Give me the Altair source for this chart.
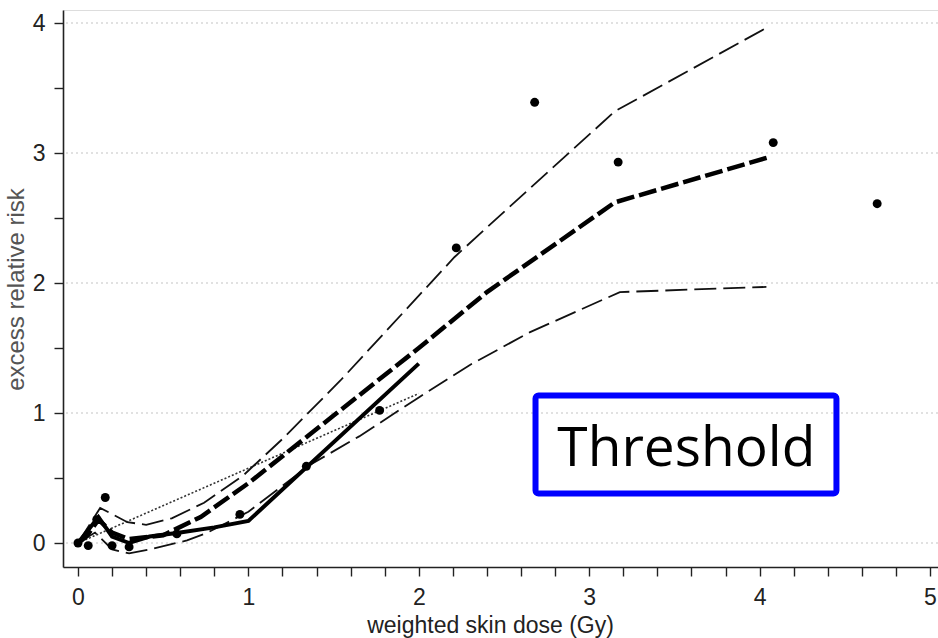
import altair as alt
import pandas as pd

# ---- data ----
pts_x = [0.0, 0.06, 0.11, 0.16, 0.2, 0.3, 0.58, 0.95, 1.34, 1.77, 2.22, 2.68, 3.17, 4.08, 4.69]
pts_y = [0.0, -0.02, 0.18, 0.35, -0.02, -0.03, 0.07, 0.22, 0.59, 1.02, 2.27, 3.39, 2.93, 3.08, 2.61]

# thick dashed fitted curve
fit_x = [0.0, 0.05, 0.12, 0.2, 0.3, 0.5, 0.72, 1.0, 1.5, 2.0, 2.4, 3.15, 4.06]
fit_y = [0.0, 0.05, 0.18, 0.08, 0.03, 0.06, 0.2, 0.46, 0.98, 1.5, 1.93, 2.62, 2.97]

# upper thin dashed band
upper_x = [0.0, 0.13, 0.29, 0.4, 0.55, 0.74, 0.97, 1.2, 1.54, 2.21, 2.36, 3.15, 4.05]
upper_y = [0.0, 0.27, 0.16, 0.14, 0.19, 0.31, 0.52, 0.8, 1.25, 2.2, 2.38, 3.32, 3.97]

# lower thin dashed band
lower_x = [0.0, 0.1, 0.2, 0.3, 0.42, 0.64, 0.76, 1.0, 1.36, 1.65, 2.0, 2.3, 2.65, 3.18, 4.04]
lower_y = [0.0, 0.08, -0.05, -0.08, -0.05, 0.02, 0.08, 0.24, 0.6, 0.82, 1.12, 1.37, 1.62, 1.93, 1.97]

# thick solid threshold model
thr_x = [0.0, 0.12, 0.2, 0.3, 0.42, 0.6, 0.8, 1.0, 2.0]
thr_y = [0.0, 0.2, 0.05, 0.0, 0.05, 0.08, 0.12, 0.17, 1.38]

# dotted linear model
lin_x = [0.0, 2.0]
lin_y = [0.0, 1.15]

grid_y = [0, 1, 2, 3, 4]
x_ticks = [0, 0.2, 0.4, 0.6, 0.8, 1, 1.2, 1.4, 1.6, 1.8, 2, 2.2, 2.4, 2.6, 2.8, 3,
           3.2, 3.4, 3.6, 3.8, 4, 4.2, 4.4, 4.6, 4.8, 5]
y_ticks = [0, 0.5, 1, 1.5, 2, 2.5, 3, 3.5, 4]

# annotation box (data units) and its label
box_x = [2.685, 4.451]
box_y = [0.381, 1.135]
box_label = "Threshold"
label_pos = [3.57, 0.592]

x_title = "weighted skin dose (Gy)"
y_title = "excess relative risk"

X_DOMAIN = [-0.088, 5.047]
Y_DOMAIN = [-0.1846, 4.1]

xs = alt.Scale(domain=X_DOMAIN, nice=False, zero=False)
ys = alt.Scale(domain=Y_DOMAIN, nice=False, zero=False)

label_expr = "abs(datum.value - round(datum.value)) < 1e-6 ? format(datum.value, 'd') : ''"

x_axis = alt.Axis(values=x_ticks, tickCount=60, labelExpr=label_expr, title=x_title, grid=False,
                  tickSize=9, tickWidth=1.4, tickColor="#222", domainColor="#222",
                  domainWidth=1.6, labelFontSize=23, labelPadding=10, labelColor="#222",
                  labelFont="Liberation Sans", titleFont="Liberation Sans",
                  titleFontSize=23, titleFontWeight="normal", titleColor="#222",
                  titleBaseline="alphabetic", titleX=427, titleY=65, titleAlign="center",
                  labelFlush=False, labelOverlap=False)
y_axis = alt.Axis(values=y_ticks, tickCount=60, labelExpr=label_expr, title=y_title, grid=False,
                  tickSize=9, tickWidth=1.4, tickColor="#222", domainColor="#222",
                  domainWidth=1.6, labelFontSize=23, labelPadding=9, labelColor="#222",
                  labelFont="Liberation Sans", titleFont="Liberation Sans",
                  titleFontSize=24, titleFontWeight="normal", titleColor="#555",
                  titleAngle=270, titleBaseline="alphabetic", titleAlign="center",
                  titleX=-40, titleY=279, labelFlush=False, labelOverlap=False)


def series(xv, yv):
    return pd.DataFrame({"x": xv, "y": yv})


grid = alt.Chart(pd.DataFrame({"y": grid_y})).mark_rule(
    color="#c4c4c4", strokeDash=[2, 3], strokeWidth=1.2
).encode(y=alt.Y("y:Q", scale=ys, axis=y_axis))

base_enc = dict(x=alt.X("x:Q", scale=xs, axis=x_axis), y=alt.Y("y:Q", scale=ys, axis=y_axis))

lin = alt.Chart(series(lin_x, lin_y)).mark_line(
    color="#333", strokeWidth=1.6, strokeDash=[2, 2]).encode(**base_enc)
upper = alt.Chart(series(upper_x, upper_y)).mark_line(
    color="#111", strokeWidth=1.8, strokeDash=[22, 7]).encode(**base_enc)
lower = alt.Chart(series(lower_x, lower_y)).mark_line(
    color="#111", strokeWidth=1.8, strokeDash=[22, 7]).encode(**base_enc)
fit = alt.Chart(series(fit_x, fit_y)).mark_line(
    color="#000", strokeWidth=4.5, strokeDash=[18, 5]).encode(**base_enc)
thr = alt.Chart(series(thr_x, thr_y)).mark_line(
    color="#000", strokeWidth=4).encode(**base_enc)
pts = alt.Chart(series(pts_x, pts_y)).mark_circle(
    color="#000", size=80, opacity=1).encode(**base_enc)

box = alt.Chart(pd.DataFrame({"x": [box_x[0]], "x2": [box_x[1]],
                              "y": [box_y[0]], "y2": [box_y[1]]})).mark_rect(
    fillOpacity=0, stroke="#0000ff", strokeWidth=6, cornerRadius=3
).encode(x=alt.X("x:Q", scale=xs, axis=x_axis), x2="x2:Q",
         y=alt.Y("y:Q", scale=ys, axis=y_axis), y2="y2:Q")

txt = alt.Chart(pd.DataFrame({"x": [label_pos[0]], "y": [label_pos[1]],
                              "t": [box_label]})).mark_text(
    font="Open Sans", fontSize=55, color="#000", baseline="alphabetic", align="center"
).encode(x=alt.X("x:Q", scale=xs, axis=x_axis), y=alt.Y("y:Q", scale=ys, axis=y_axis),
         text="t:N")

chart = alt.layer(grid, lin, upper, lower, fit, thr, pts, box, txt).properties(
    width=875, height=557,
    autosize=alt.AutoSizeParams(type="none"),
    padding={"left": 63, "top": 10, "right": 0, "bottom": 71},
).configure_view(strokeWidth=0).configure(background="white")

chart.save("out.html", embed_options={"renderer": "svg", "actions": False})
